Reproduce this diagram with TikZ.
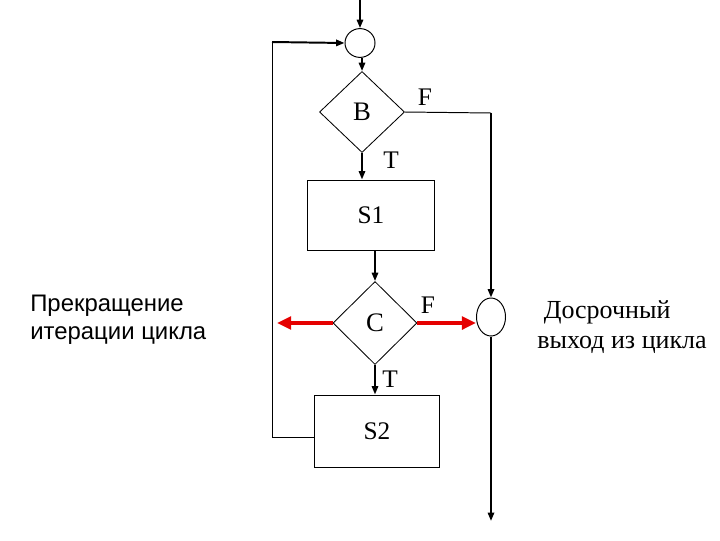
\documentclass[tikz,border=0pt]{standalone}
\usepackage{fontspec}
\setmainfont{Liberation Serif}
\setsansfont{Liberation Sans}
\usetikzlibrary{shapes.geometric,arrows.meta,positioning}

\begin{document}
\begin{tikzpicture}[
        x=0.025cm, y=-0.025cm,
        block/.style={
            draw,
            rectangle,
            line width=0.7pt,
            font=\fontsize{18}{20}\selectfont
        },
        cond/.style={
            draw,
            diamond,
            inner sep=0pt,
            line width=0.6pt,
            font=\fontsize{19}{22}\selectfont
        },
        joint/.style={
            draw,
            ellipse,
            line width=0.7pt
        },
        lbl/.style={
            font=\fontsize{18}{20}\selectfont
        },
        arr/.style={
            -{Triangle[length=6pt,width=4.5pt]},
            line width=1.4pt
        },
        redarr/.style={
            -{Triangle[length=10pt,width=9pt]},
            line width=3pt,
            color=red!90!black
        }
    ]
    \useasboundingbox (0,0) rectangle (720,540);

    \node[joint, minimum width=0.75cm, minimum height=0.72cm] (entry) at (360,43) {};
    \node[cond, minimum width=2.125cm, minimum height=2.025cm] (condB) at (362,112) {B};
    \node[block, minimum width=3.15cm, minimum height=1.75cm] (s1) at (371,215) {S1};
    \node[cond, minimum width=2.1cm, minimum height=2.075cm] (condC) at (375,323) {C};
    \node[block, minimum width=3.125cm, minimum height=1.8cm] (s2) at (377,431) {S2};
    \node[joint, minimum width=0.725cm, minimum height=0.95cm] (exit) at (491,317) {};

    \node[lbl] (fB) at (425,97) {F};
    \node[lbl] (tB) at (391,160) {T};
    \node[lbl] (fC) at (428,305) {F};
    \node[lbl] (tC) at (390,379) {T};

    \node[anchor=west, align=left, inner sep=0pt, font=\sffamily\fontsize{17}{20}\selectfont] (stopnote) at (30,320)
        {Прекращение\\итерации цикла};
    \node[anchor=west, align=left, inner sep=0pt, font=\fontsize{18.5}{21}\selectfont] (exitnote) at (537,327)
        {\ Досрочный\\выход из цикла};

    \coordinate (start) at (360,0);
    \coordinate (loop) at (272,42);
    \coordinate (fcorner) at (491,113);
    \coordinate (finish) at (491,521);
    \coordinate (contin) at (277,321);

    \draw[arr] (start) -- (entry);
    \draw[arr] (entry.south -| condB.north) -- (condB.north);
    \draw[arr] (condB.south) -- (condB.south |- s1.north);
    \draw[arr] (s1.south -| condC.north) -- (condC.north);
    \draw[arr] (condC.south) -- (condC.south |- s2.north);

    \draw[line width=0.7pt] (s2.west |- 0,437) -| (loop);
    \draw[arr] (loop) -- (entry.west);

    \draw[line width=0.7pt] (condB.east) -- (fcorner);
    \draw[arr] (fcorner) -- (exit.north);
    \draw[arr] (exit.south) -- (finish);

    \draw[redarr] (condC.west) -- (condC.west -| contin);
    \draw[redarr] (condC.east) -- (condC.east -| exit.west);

\end{tikzpicture}
\end{document}
